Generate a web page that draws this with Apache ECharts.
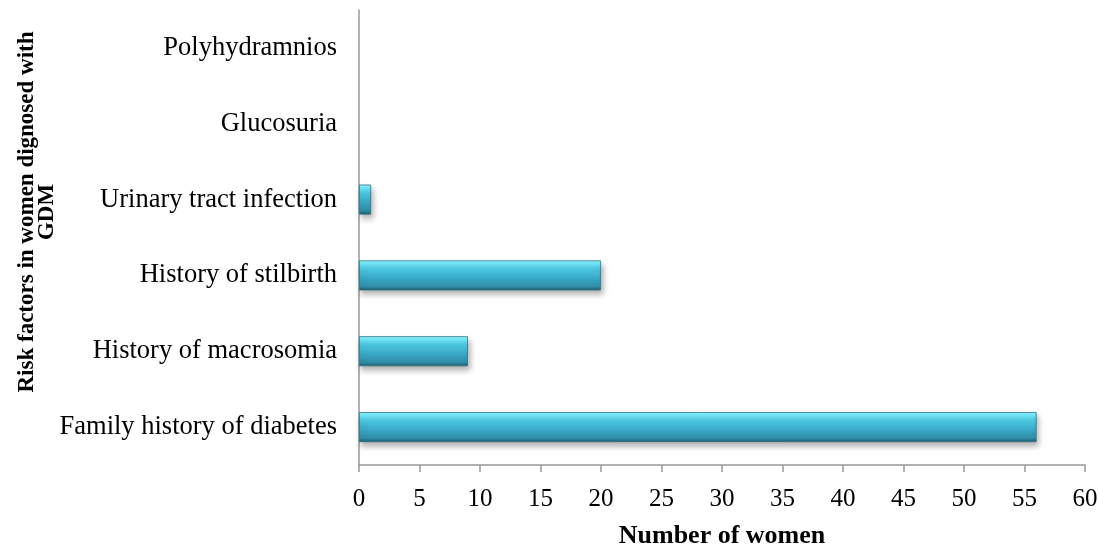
<!DOCTYPE html>
<html><head><meta charset="utf-8">
<script src="https://cdn.jsdelivr.net/npm/echarts@6/dist/echarts.min.js"></script>
<style>html,body{margin:0;padding:0;background:#fff}#c{width:1099px;height:546px}</style>
</head><body><div id="c"></div>
<script>
const categories = ['Family history of diabetes','History of macrosomia','History of stilbirth','Urinary tract infection','Glucosuria','Polyhydramnios'];
const values = [56, 9, 20, 1, 0, 0];
const xTicks = {min: 0, max: 60, interval: 5};
const xTitle = 'Number of women';
const yTitle = 'Risk factors in women dignosed with\nGDM';

const chart = echarts.init(document.getElementById('c'));
const font = "'Liberation Serif','Times New Roman',serif";
const barData = values.map(v => v === 0
  ? {value: v, itemStyle: {borderWidth: 0, shadowBlur: 0, opacity: 0}}
  : v);
chart.setOption({
  animation: false,
  grid: {left: 359, right: 14, top: 10, bottom: 81, containLabel: false, outerBoundsMode: 'none'},
  xAxis: {
    type: 'value', min: xTicks.min, max: xTicks.max, interval: xTicks.interval,
    name: xTitle, nameLocation: 'middle', nameGap: 58,
    nameTextStyle: {fontFamily: font, fontSize: 26, fontWeight: 'bold', color: '#000'},
    axisLine: {show: true, lineStyle: {color: '#999', width: 1.5}},
    axisTick: {show: true, length: 7, lineStyle: {color: '#999', width: 1.5}},
    axisLabel: {fontFamily: font, fontSize: 25, color: '#000', margin: 22},
    splitLine: {show: false}
  },
  yAxis: {
    type: 'category', data: categories,
    axisLine: {show: true, lineStyle: {color: '#999', width: 1.5}},
    axisTick: {show: false},
    axisLabel: {fontFamily: font, fontSize: 26.5, color: '#000', margin: 22}
  },
  graphic: [{
    type: 'text', x: 37, y: 212, rotation: Math.PI / 2,
    style: {text: yTitle, fontFamily: font, fontSize: 23, fontWeight: 'bold', fill: '#000',
      align: 'center', verticalAlign: 'middle', lineHeight: 20}
  }],
  series: [{
    type: 'bar', data: barData, barWidth: 30,
    itemStyle: {
      color: new echarts.graphic.LinearGradient(0, 0, 0, 1, [
        {offset: 0, color: '#8ff4ff'},
        {offset: 0.12, color: '#6fe6fa'},
        {offset: 0.3, color: '#4cc6e0'},
        {offset: 0.6, color: '#38a8c6'},
        {offset: 0.88, color: '#2f8ca6'},
        {offset: 1, color: '#1f5a6a'}
      ]),
      borderColor: '#2a7487', borderWidth: 0.8,
      shadowBlur: 6, shadowColor: 'rgba(0,0,0,0.3)', shadowOffsetY: 4, shadowOffsetX: 2
    }
  }]
});
</script></body></html>
